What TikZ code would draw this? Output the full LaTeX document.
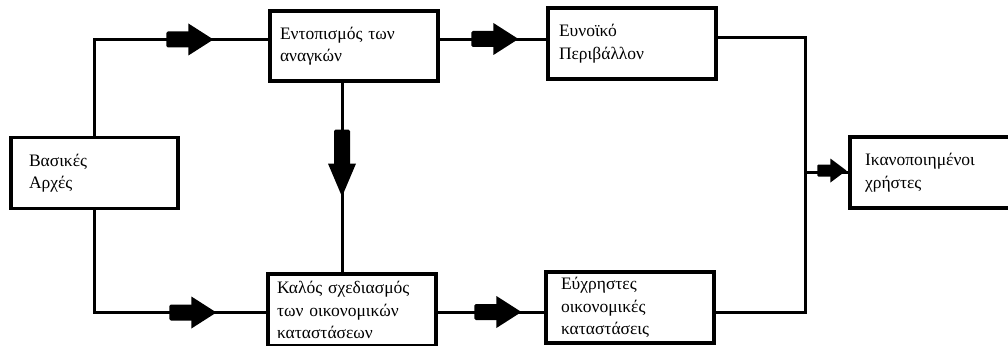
\documentclass[tikz,border=0pt]{standalone}
\usepackage{fontspec}
\setmainfont{Liberation Serif}
\usetikzlibrary{calc}
\tikzset{
  box/.style={draw, line width=3.2pt, rectangle, inner sep=0pt, minimum width=168pt, minimum height=71pt,
    align=left, text width=#1, font=\fontsize{17.5}{22.5}\selectfont},
  conn/.style={line width=3pt},
  pics/fatH/.style={code={
    \fill[rounded corners=1.5pt] (-47,-8) rectangle (-23,8);
    \fill (-25,-16) -- (0,0) -- (-25,16) -- cycle;}},
  pics/fatV/.style={code={
    \fill[rounded corners=1.5pt] (-8,-67) rectangle (8,-31);
    \fill (-14,-33) -- (0,0) -- (14,-33) -- cycle;}},
  pics/fatS/.style={code={
    \fill[rounded corners=1pt] (-29,-6) rectangle (-14,6);
    \fill (-16,-12) -- (0,0) -- (-16,12) -- cycle;}}
}
\begin{document}
\begin{tikzpicture}[x=1pt,y=-1pt]
\useasboundingbox (0,0) rectangle (1008,345);
\clip (0,0) rectangle (1008,345);
% boxes
\node[box=131pt, minimum width=167pt] (ba) at (94.5,173) {Βασικές\\Αρχές};
\node[box=148pt, minimum height=70pt] (ent) at (354,46) {Εντοπισμός των\\αναγκών};
\node[box=146pt] (ev) at (632,43.5) {Ευνοϊκό\\Περιβάλλον};
\node[box=150pt, minimum height=72pt] (kal) at (352,310) {Καλός σχεδιασμός\\των οικονομικών\\καταστάσεων};
\node[box=138pt] (eux) at (630,307.5) {Εύχρηστες\\οικονομικές\\καταστάσεις};
\node[box=135pt, minimum width=165pt] (ik) at (932.5,172.5) {Ικανοποιημένοι\\χρήστες};
% connectors
\draw[conn] (ba.north) |- ($(ent.west)+(0,-6.5)$);
\draw[conn] (ba.south) |- ($(kal.west)+(0,2.5)$);
\coordinate (v1) at ($(ent.south)+(-12,0)$);
\draw[conn] (v1) -- (v1 |- kal.north);
\coordinate (h1) at ($(ent.east)+(0,-6.5)$);
\draw[conn] (h1) -- (h1 -| ev.west);
\coordinate (h2) at ($(kal.east)+(0,2.5)$);
\draw[conn] (h2) -- (h2 -| eux.west);
\coordinate (j) at ($(ik.west)+(-43,0)$);
\draw[conn] ($(ev.east)+(0,-5.5)$) -| (j);
\draw[conn] ($(eux.east)+(0,4.5)$) -| (j);
\draw[conn] (j) -- (ik.west);
% fat arrowheads
\pic at ($(ent.west)+(-55,-6.5)$) {fatH};
\pic at ($(kal.west)+(-50,2.5)$) {fatH};
\pic at ($(ev.west)+(-28,-4.5)$) {fatH};
\pic at ($(eux.west)+(-23,4.5)$) {fatH};
\pic at ($(v1)+(0,114)$) {fatV};
\pic at ($(ik.west)+(-2,-2)$) {fatS};
\end{tikzpicture}
\end{document}
